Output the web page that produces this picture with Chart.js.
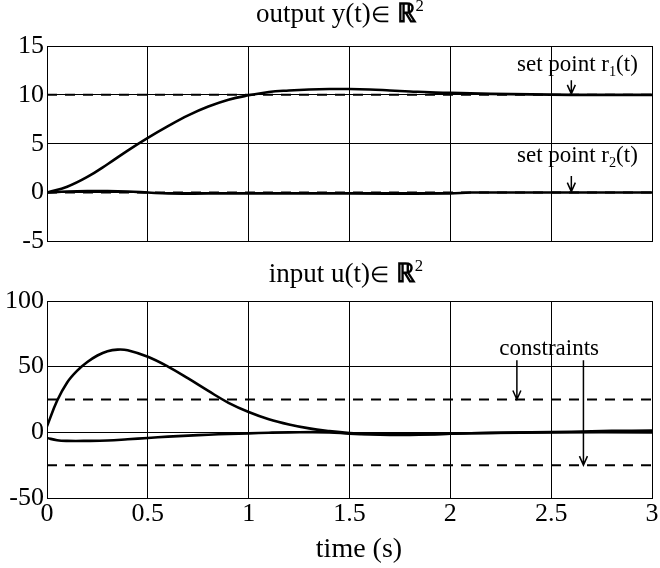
<!DOCTYPE html>
<html>
<head>
<meta charset="utf-8">
<script src="https://cdn.jsdelivr.net/npm/chart.js@4.4.1/dist/chart.umd.min.js"></script>
<style>
  body { margin: 0; background: #fff; }
  #wrap { position: relative; width: 660px; height: 568px; }
  canvas { position: absolute; left: 0; }
</style>
</head>
<body>
<div id="wrap">
  <canvas id="outputChart" width="660" height="260" style="top:0"></canvas>
  <canvas id="inputChart" width="660" height="308" style="top:260px"></canvas>
</div>
<script>
// ---- data ----
const xTickLabels = ["0", "0.5", "1", "1.5", "2", "2.5", "3"];
const yOutTickLabels = ["-5", "0", "5", "10", "15"];
const yInTickLabels = ["-50", "0", "50", "100"];

const tY1 = [0, 0.1, 0.2, 0.3, 0.4, 0.5, 0.6, 0.7, 0.8, 0.9, 1.0, 1.1, 1.2, 1.3, 1.4, 1.5, 1.6, 1.7, 1.8, 1.9, 2.0, 2.2, 2.4, 2.6, 2.8, 3.0];
const y1 = [0, 0.6, 1.6, 2.9, 4.3, 5.6, 6.8, 7.9, 8.8, 9.5, 9.95, 10.3, 10.45, 10.55, 10.6, 10.6, 10.55, 10.45, 10.35, 10.25, 10.2, 10.1, 10.05, 10.0, 10.0, 10.0];

const tY2 = [0, 0.1, 0.2, 0.3, 0.4, 0.5, 0.6, 0.8, 1.0, 1.5, 2.0, 2.1, 2.5, 3.0];
const y2 = [0, 0.1, 0.15, 0.15, 0.1, 0, -0.1, -0.1, -0.1, -0.1, -0.1, 0, 0, 0];

const tRef = [0, 3];
const r1 = [10, 10];
const r2 = [0, 0];

const tU1 = [0, 0.05, 0.1, 0.15, 0.2, 0.25, 0.3, 0.35, 0.4, 0.5, 0.6, 0.7, 0.8, 0.9, 1.0, 1.1, 1.2, 1.3, 1.4, 1.5, 1.6, 1.7, 1.8, 1.9, 2.0, 2.2, 2.4, 2.6, 2.8, 3.0];
const u1 = [4.6, 24, 38, 47, 53.5, 58.5, 61.8, 63, 62.5, 57.5, 50, 41, 31.5, 22.5, 15.5, 10, 6, 3, 1, -0.5, -1.4, -1.9, -2, -1.7, -1.1, -0.4, 0.1, 0.5, 1.1, 1.3];

const tU2 = [0, 0.05, 0.1, 0.2, 0.3, 0.4, 0.5, 0.6, 0.7, 0.8, 0.9, 1.0, 1.1, 1.2, 1.4, 1.5, 1.6, 1.8, 2.0, 2.2, 2.5, 3.0];
const u2 = [-4.3, -6, -6.5, -6.5, -6.2, -5.3, -4.3, -3.3, -2.5, -1.8, -1.2, -0.8, -0.3, 0, 0, -1, -1.5, -1.5, -1, -0.5, 0, 0];

const uMax = [25, 25];
const uMin = [-25, -25];

// ---- style ----
const serif = '"Liberation Serif", "Times New Roman", serif';
const ink = "#000";

const toPoints = (ts, vs) => ts.map((t, i) => ({ x: t, y: vs[i] }));

const solid = (ts, vs) => ({
  data: toPoints(ts, vs),
  borderColor: ink,
  borderWidth: 2.6,
  pointRadius: 0,
  tension: 0.4,
  fill: false,
});

const dashed = (ts, vs) => ({
  data: toPoints(ts, vs),
  borderColor: ink,
  borderWidth: 2,
  borderDash: [10, 8],
  pointRadius: 0,
  fill: false,
});

// rich text: parts with optional sub / sup / bold / scale
function drawRich(ctx, parts, x, y, size) {
  const sizeOf = (p) => (p.sub || p.sup ? size * 0.62 : size * (p.scale || 1));
  const fontOf = (p) => `${p.bold ? "bold " : ""}${sizeOf(p)}px ${serif}`;
  let w = 0;
  parts.forEach((p) => {
    ctx.font = fontOf(p);
    w += ctx.measureText(p.s).width;
  });
  let cx = x - w / 2;
  parts.forEach((p) => {
    ctx.font = fontOf(p);
    const dy = p.sub ? size * 0.22 : p.sup ? -size * 0.42 : 0;
    ctx.fillText(p.s, cx, y + dy);
    cx += ctx.measureText(p.s).width;
  });
}

function drawArrow(ctx, x, yFrom, yTo) {
  ctx.beginPath();
  ctx.moveTo(x, yFrom);
  ctx.lineTo(x, yTo);
  ctx.moveTo(x - 4, yTo - 9);
  ctx.lineTo(x, yTo);
  ctx.lineTo(x + 4, yTo - 9);
  ctx.stroke();
}

const textPlugin = {
  id: "texts",
  afterDraw(chart, args, opts) {
    const { ctx, chartArea, scales } = chart;
    ctx.save();
    ctx.fillStyle = ink;
    ctx.strokeStyle = ink;
    ctx.lineWidth = 1.5;
    ctx.textAlign = "left";
    ctx.textBaseline = "alphabetic";
    drawRich(ctx, opts.title, opts.titleX, chartArea.top - opts.titleGap, 27);
    (opts.notes || []).forEach((n) => {
      drawRich(ctx, n.parts, scales.x.getPixelForValue(n.t), scales.y.getPixelForValue(n.v), 23);
    });
    (opts.arrows || []).forEach((a) => {
      const x = scales.x.getPixelForValue(a.t);
      drawArrow(ctx, x, scales.y.getPixelForValue(a.from), scales.y.getPixelForValue(a.to));
    });
    if (opts.xTitle) {
      drawRich(ctx, [{ s: opts.xTitle }], opts.xTitleX, chartArea.bottom + opts.xTitleGap, 28);
    }
    ctx.restore();
  },
};

const tickFont = { family: serif, size: 26 };

const makeScales = (yMin, yMax, yStep, yLabels, showX) => ({
  x: {
    type: "linear",
    min: 0,
    max: 3,
    ticks: {
      display: showX,
      stepSize: 0.5,
      color: ink,
      font: tickFont,
      padding: 1,
      maxRotation: 0,
      callback: (v, i) => xTickLabels[i],
    },
    grid: { color: ink, lineWidth: 1, drawTicks: false },
    border: { color: ink, width: 1 },
    afterFit: (s) => { s.height = showX ? 70 : 0; },
  },
  y: {
    min: yMin,
    max: yMax,
    ticks: {
      stepSize: yStep,
      color: ink,
      font: tickFont,
      padding: 3,
      callback: (v, i) => yLabels[i],
    },
    grid: { color: ink, lineWidth: 1, drawTicks: false },
    border: { color: ink, width: 1 },
    afterFit: (s) => { s.width = 47; },
  },
});

const titleParts = (head) => [
  { s: head },
  { s: "\u2208", scale: 0.8 },
  { s: " " },
  { s: "\u211D", bold: true },
  { s: "2", sup: true },
];

new Chart(document.getElementById("outputChart"), {
  type: "line",
  data: {
    datasets: [dashed(tRef, r1), dashed(tRef, r2), solid(tY1, y1), solid(tY2, y2)],
  },
  options: {
    responsive: false,
    animation: false,
    layout: { padding: { left: 0, right: 8, top: 46, bottom: 15 } },
    scales: makeScales(-5, 15, 5, yOutTickLabels, false),
    plugins: {
      legend: { display: false },
      tooltip: { enabled: false },
      texts: {
        title: titleParts("output y(t)"),
        titleX: 340,
        titleGap: 24,
        notes: [
          { t: 2.63, v: 12.4, parts: [{ s: "set point r" }, { s: "1", sub: true }, { s: "(t)" }] },
          { t: 2.63, v: 3.1, parts: [{ s: "set point r" }, { s: "2", sub: true }, { s: "(t)" }] },
        ],
        arrows: [
          { t: 2.6, from: 11.5, to: 10.1 },
          { t: 2.6, from: 1.7, to: 0.1 },
        ],
      },
    },
  },
  plugins: [textPlugin],
});

new Chart(document.getElementById("inputChart"), {
  type: "line",
  data: {
    datasets: [dashed(tRef, uMax), dashed(tRef, uMin), solid(tU1, u1), solid(tU2, u2)],
  },
  options: {
    responsive: false,
    animation: false,
    layout: { padding: { left: 0, right: 8, top: 41, bottom: 0 } },
    scales: makeScales(-50, 100, 50, yInTickLabels, true),
    plugins: {
      legend: { display: false },
      tooltip: { enabled: false },
      texts: {
        title: titleParts("input u(t)"),
        titleX: 346,
        titleGap: 19,
        notes: [{ t: 2.49, v: 58.6, parts: [{ s: "constraints" }] }],
        arrows: [
          { t: 2.33, from: 54.8, to: 25 },
          { t: 2.66, from: 54.8, to: -25 },
        ],
        xTitle: "time (s)",
        xTitleX: 359,
        xTitleGap: 59,
      },
    },
  },
  plugins: [textPlugin],
});
</script>
</body>
</html>
